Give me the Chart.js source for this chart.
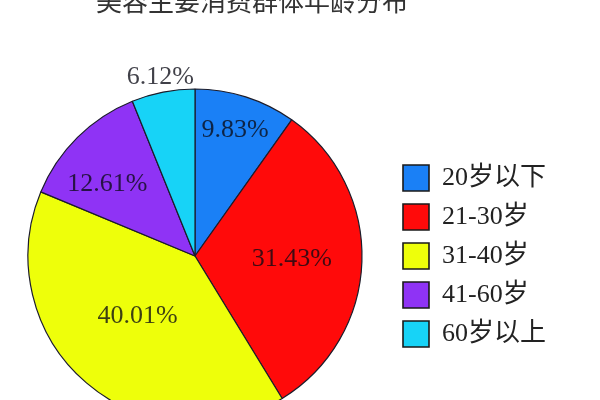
<!DOCTYPE html>
<html>
<head>
<meta charset="utf-8">
<script src="https://cdn.jsdelivr.net/npm/chart.js@4/dist/chart.umd.min.js"></script>
<style>
  html, body { margin: 0; padding: 0; background: #fff; overflow: hidden; }
  #wrap { position: relative; width: 600px; height: 400px; }
</style>
</head>
<body>
<div id="wrap"><canvas id="myChart"></canvas></div>
<script>
var titleText = '美容主要消费群体年龄分布';
var ageGroups = ['20岁以下', '21-30岁', '31-40岁', '41-60岁', '60岁以上'];
var shares = [9.83, 31.43, 40.01, 12.61, 6.12];
var sliceColors = ['#1a80f6', '#ff0a0a', '#eeff0a', '#8f33f5', '#17d3f7'];

var serif = "'Liberation Serif', 'Noto Sans CJK SC', serif";

// percent labels on the slices, distance from centre as share of the radius
var sliceLabels = {
    id: 'sliceLabels',
    afterDatasetsDraw: function(chart, args, opts) {
        var ctx = chart.ctx;
        var meta = chart.getDatasetMeta(0);
        ctx.save();
        ctx.font = '26px ' + serif;
        ctx.fillStyle = 'rgba(10,10,20,0.78)';
        ctx.textAlign = 'center';
        ctx.textBaseline = 'middle';
        meta.data.forEach(function(arc, i) {
            var p = arc.getProps(['x', 'y', 'startAngle', 'endAngle', 'outerRadius'], true);
            var mid = (p.startAngle + p.endAngle) / 2 + (opts.turn[i] || 0);
            var r = p.outerRadius * opts.dist[i];
            ctx.fillText(shares[i].toFixed(2) + '%', p.x + Math.cos(mid) * r, p.y + Math.sin(mid) * r);
        });
        ctx.restore();
    }
};

// the title sits left of centre and is cut by the top edge
var topTitle = {
    id: 'topTitle',
    afterDraw: function(chart, args, opts) {
        var ctx = chart.ctx;
        ctx.save();
        ctx.font = '26px ' + serif;
        ctx.fillStyle = '#333';
        ctx.textAlign = 'center';
        ctx.textBaseline = 'middle';
        ctx.fillText(titleText, opts.x, opts.y);
        ctx.restore();
    }
};

var ctx = document.getElementById('myChart').getContext('2d');
var myChart = new Chart(ctx, {
    type: 'pie',
    data: {
        labels: ageGroups,
        datasets: [{
            data: shares,
            backgroundColor: sliceColors,
            borderColor: '#1c1c2a',
            borderWidth: 1.2,
            radius: 167
        }]
    },
    options: {
        responsive: true,
        maintainAspectRatio: false,
        animation: false,
        layout: {
            padding: { top: 112, bottom: 0, left: 0, right: 44 }
        },
        plugins: {
            tooltip: { enabled: false },
            title: { display: false },
            topTitle: { x: 252, y: 4 },
            sliceLabels: {
                dist: [0.79, 0.58, 0.5, 0.68, 1.09],
                turn: [0, 0, 0.05, -0.1, 0]
            },
            legend: {
                position: 'right',
                labels: {
                    boxWidth: 26,
                    boxHeight: 26,
                    padding: 13,
                    color: '#222',
                    font: { size: 26, family: serif },
                    generateLabels: function(chart) {
                        var items = Chart.overrides.pie.plugins.legend.labels.generateLabels(chart);
                        items.forEach(function(it) {
                            it.strokeStyle = '#1a1a1a';
                            it.lineWidth = 1.6;
                        });
                        return items;
                    }
                }
            }
        }
    },
    plugins: [sliceLabels, topTitle]
});
</script>
</body>
</html>
